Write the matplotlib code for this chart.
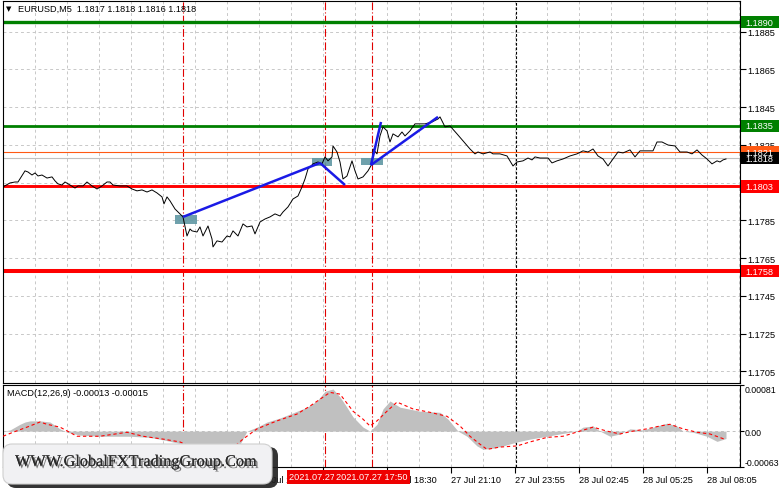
import matplotlib
matplotlib.use('Agg')
import matplotlib.pyplot as plt
from matplotlib.patches import Rectangle, FancyBboxPatch
from matplotlib.transforms import blended_transform_factory, IdentityTransform
import matplotlib.patheffects as pe
import numpy as np

# ---------------- data ----------------
price_bar = [0, 3.5, 6, 7.5, 11, 12.5, 14.5, 16, 17.5, 19.5, 22, 24.5, 26, 27.5, 29.5, 31, 33.5, 36, 37.5, 40,
             42, 44.5, 47, 49.5, 52, 53.5, 55, 58.5, 62, 64.5, 67, 69.5, 72, 74.5, 77, 79.5, 80.5, 82, 83.5, 86,
             88.5, 90, 92, 93.5, 94.5, 97, 98.5, 100, 102.5, 104.5, 105, 107, 109.5, 112, 113.5, 115, 117.5, 120,
             122, 124.5, 126, 128.5, 131, 133.5, 136, 138.5, 140, 142.5, 145, 147.5, 149.5, 151, 152.5, 155, 157.5,
             159.5, 161, 162.5, 164.5, 165, 167, 168.5, 170, 172, 174.5, 176, 177.5, 180, 182.5, 184.5, 185, 187,
             188.5, 190, 192, 193.5, 195, 197.5, 199.5, 201, 203.5, 206, 208.5, 211, 214.5, 217.5, 218.5, 221,
             223.5, 227, 230, 233.5, 236, 237.5, 240, 243.5, 245, 248.5, 252, 255, 257, 260, 262.5, 264.5, 266,
             268.5, 272.5, 274.5, 277, 280, 283.5, 287, 290, 292.5, 295, 297.5, 300, 302.5, 305, 307.5, 310, 313.5,
             316, 318.5, 320, 325, 327, 329.5, 332.5, 336, 338.5, 342, 344.5, 347, 349.5, 352, 354.5, 357, 358.5,
             360, 361.5]
price_close = [1.18027, 1.18048, 1.18053, 1.18053, 1.18112, 1.18106, 1.18090, 1.18101, 1.18085, 1.18090,
               1.18074, 1.18080, 1.18059, 1.18043, 1.18037, 1.18053, 1.18037, 1.18021, 1.18032, 1.18032,
               1.18053, 1.18032, 1.18016, 1.18032, 1.18053, 1.18053, 1.18037, 1.18032, 1.18032, 1.18016,
               1.18006, 1.18011, 1.18000, 1.18011, 1.17995, 1.17974, 1.17937, 1.17974, 1.17953, 1.17910,
               1.17884, 1.17868, 1.17767, 1.17804, 1.17794, 1.17788, 1.17815, 1.17767, 1.17820, 1.17751,
               1.17709, 1.17741, 1.17735, 1.17767, 1.17762, 1.17794, 1.17767, 1.17831, 1.17815, 1.17820,
               1.17778, 1.17841, 1.17857, 1.17868, 1.17884, 1.17873, 1.17894, 1.17921, 1.17963, 1.17979,
               1.18027, 1.18069, 1.18122, 1.18149, 1.18159, 1.18149, 1.18186, 1.18165, 1.18186, 1.18244,
               1.18212, 1.18159, 1.18069, 1.18085, 1.18165, 1.18112, 1.18069, 1.18080, 1.18112, 1.18149,
               1.18228, 1.18202, 1.18297, 1.18345, 1.18324, 1.18265, 1.18308, 1.18292, 1.18318, 1.18297,
               1.18324, 1.18361, 1.18361, 1.18361, 1.18371, 1.18387, 1.18398, 1.18345, 1.18350, 1.18308,
               1.18271, 1.18228, 1.18202, 1.18212, 1.18202, 1.18212, 1.18202, 1.18202, 1.18191, 1.18138,
               1.18159, 1.18165, 1.18180, 1.18170, 1.18186, 1.18180, 1.18180, 1.18154, 1.18165, 1.18175,
               1.18191, 1.18202, 1.18218, 1.18212, 1.18228, 1.18191, 1.18175, 1.18138, 1.18175, 1.18212,
               1.18207, 1.18223, 1.18186, 1.18218, 1.18218, 1.18218, 1.18265, 1.18265, 1.18249, 1.18244,
               1.18212, 1.18212, 1.18202, 1.18223, 1.18196, 1.18175, 1.18149, 1.18165, 1.18159, 1.18170,
               1.18175]

macd_bar = [0, 3.5, 8.5, 11, 13.5, 18.5, 23.5, 28.5, 32, 38.5, 48.5, 63.5, 73.5, 81, 87.5, 90, 96, 103.5, 111,
            118.5, 122, 127, 132, 138.5, 143.5, 148.5, 152, 157, 161, 165, 168.5, 171, 175, 180, 183.5, 187, 190,
            193.5, 198.5, 208.5, 218.5, 222.5, 227.5, 232, 237, 240, 245, 250, 257, 263.5, 272, 280, 287, 290,
            295, 298.5, 303.5, 308.5, 313.5, 320, 327, 332, 337, 340, 345, 352, 357, 361.5]
macd_main = [0.0, 0.00002, 0.00012, 0.00016, 0.00018, 0.00018, 0.00016, 0.00004, -0.00002, -0.00007, -0.00009,
             -0.00009, -0.00011, -0.00016, -0.00021, -0.00026, -0.00035, -0.00042, -0.00040, -0.00023, 0.0,
             0.00007, 0.00016, 0.00023, 0.00030, 0.00037, 0.00042, 0.00053, 0.00070, 0.00074, 0.00060, 0.00047,
             0.00025, 0.00007, 0.0, 0.00012, 0.00039, 0.00053, 0.00042, 0.00035, 0.00033, 0.00021, 0.0, -0.00009,
             -0.00026, -0.00032, -0.00030, -0.00026, -0.00019, -0.00014, -0.00009, -0.00004, 0.0, 0.00007,
             0.00009, 0.0, -0.00009, -0.00005, 0.00004, 0.00002, 0.00009, 0.00014, 0.00009, 0.0, -0.00002,
             -0.00009, -0.00018, -0.00013]

sig_bar = [0, 5, 12, 18.5, 22, 28.5, 37, 48.5, 62, 70, 80, 88.5, 98.5, 108.5, 116, 120, 127, 137, 147, 153.5,
           158.5, 163.5, 168.5, 175, 180, 183.5, 187, 192, 197, 205, 213.5, 222, 228.5, 233.5, 238.5, 242, 248.5,
           257, 263.5, 272, 280, 288.5, 295, 302, 308.5, 315, 322, 328.5, 333.5, 340, 347, 353.5, 361.5]
sig_val = [-0.00009, -0.00002, 0.00007, 0.00016, 0.00012, 0.00007, -0.00009, -0.00009, -0.00002, -0.00009,
           -0.00014, -0.00019, -0.00035, -0.00042, -0.00026, -0.00014, 0.00004, 0.00018, 0.00030, 0.00044,
           0.00056, 0.00068, 0.00065, 0.00035, 0.00021, 0.00009, 0.00018, 0.00035, 0.00051, 0.00039, 0.00033,
           0.00026, 0.00009, -0.00009, -0.00023, -0.00032, -0.00028, -0.00026, -0.00019, -0.00011, -0.00009,
           0.0, 0.00007, 0.0, -0.00005, 0.0, 0.00004, 0.00009, 0.00012, 0.00004, -0.00002, -0.00005, -0.00015]

# horizontal levels
level_price = [1.1890, 1.1835, 1.1803, 1.1758]
level_color = ['#008000', '#008000', '#ff0000', '#ff0000']
level_lw = [2.4, 2.0, 2.1, 2.9]
ask_price = 1.1821
bid_price = 1.1818

# trend lines (bar, price)
trend_bar = [(90, 158.5), (158.5, 171), (184, 189), (184, 217.5)]
trend_price = [(1.17868, 1.18154), (1.18154, 1.18037), (1.18143, 1.18371), (1.18143, 1.18398)]

# zones
zone_bar = [(86, 97), (154.5, 164.5), (179, 190)]
zone_price = [(1.17831, 1.17879), (1.18138, 1.18180), (1.18143, 1.18180)]

vline_red_bar = [90, 161, 184.5]
vline_red_text = ['2021.07.27 09:40', '2021.07.27 15:45', '2021.07.27 17:50']
day_sep_bar = 256.5

price_ticks = [1.1885, 1.1865, 1.1845, 1.1825, 1.1805, 1.1785, 1.1765, 1.1745, 1.1725, 1.1705]
time_tick_bar = [32, 64, 96, 128, 160, 192, 224, 256, 288, 320, 352]
time_tick_lab = ['27 Jul 05:10', '27 Jul 07:50', '27 Jul 10:30', '27 Jul 13:10', '27 Jul 15:50', '27 Jul 18:30',
                 '27 Jul 21:10', '27 Jul 23:55', '28 Jul 02:45', '28 Jul 05:25', '28 Jul 08:05']

# ---------------- figure ----------------
W, H = 781, 489
fig = plt.figure(figsize=(W / 100, H / 100), dpi=100)
FONT = 'Liberation Sans'
FS = 6.6

def fx(px):
    return px / W

def fy(py):
    return 1 - py / H

ax1 = fig.add_axes([fx(3), fy(384), fx(740) - fx(3), fy(2) - fy(384)])
ax2 = fig.add_axes([fx(3), fy(468), fx(740) - fx(3), fy(386) - fy(468)])

XMAX = 368.5
for ax in (ax1, ax2):
    ax.set_xlim(0, XMAX)
    for s in ax.spines.values():
        s.set_linewidth(0.8)
        s.set_color('black')
    for gb in np.arange(16, XMAX, 16):
        ax.axvline(gb, color='#c8c8c8', lw=0.7, ls=(0, (3, 3)), zorder=0.5)
    for vb in vline_red_bar:
        ax.axvline(vb, color='#e00000', lw=0.8, ls=(0, (7, 2, 1, 2)), zorder=1)
    ax.axvline(day_sep_bar, color='black', lw=0.8, ls=(0, (2.5, 1.5)), zorder=1)

ax1.set_ylim(1.16988, 1.19012)
for p in price_ticks:
    ax1.axhline(p, color='#c8c8c8', lw=0.7, ls=(0, (3, 3)), zorder=0.5)

# levels
for p, c, lw in zip(level_price, level_color, level_lw):
    ax1.axhline(p, color=c, lw=lw, zorder=2)
ax1.axhline(ask_price, color='#ff5a14', lw=0.8, zorder=2)
ax1.axhline(bid_price, color='#c0c0c0', lw=0.8, zorder=2)

# zones
for (b0, b1), (p0, p1) in zip(zone_bar, zone_price):
    ax1.add_patch(Rectangle((b0, p0), b1 - b0, p1 - p0, fc='#5f97a3', ec='none', alpha=0.9, zorder=3))

# price line
ax1.plot(price_bar, price_close, color='black', lw=0.7, zorder=4)

# trend lines
for bb, pp in zip(trend_bar, trend_price):
    ax1.plot(bb, pp, color='#1a1ae6', lw=1.8, zorder=5, solid_capstyle='butt')

ax1.yaxis.tick_right()
ax1.set_yticks(price_ticks)
ax1.set_yticklabels([f'{p:.4f}' for p in price_ticks])
ax1.tick_params(axis='y', length=4, width=0.8, pad=1.5, labelsize=FS, labelfontfamily=FONT)
ax1.set_xticks([])

# MACD panel
ax2.set_ylim(-0.00063, 0.00081)
ax2.fill_between(macd_bar, 0, macd_main, color='#c0c0c0', lw=0, zorder=2)
ax2.plot(sig_bar, sig_val, color='#ff0000', lw=0.8, ls=(0, (3, 2.5)), zorder=3)
ax2.axhline(0, color='#c0c0c0', lw=0.7, ls=(0, (3, 3)), zorder=1.5)
ax2.yaxis.tick_right()
ax2.set_yticks([-0.00063, 0.0, 0.00081])
ax2.set_yticklabels(['-0.00063', '0.00', '0.00081'])
ax2.tick_params(axis='y', length=3, width=0.8, pad=0.5, labelsize=6.3, labelfontfamily=FONT)
ylabs = ax2.get_yticklabels()
ylabs[0].set_va('bottom')
ylabs[2].set_va('top')
ax2.set_xticks(time_tick_bar)
ax2.set_xticklabels(time_tick_lab)
ax2.tick_params(axis='x', length=4, width=0.8, pad=2, labelsize=FS, labelfontfamily=FONT)
for lab in ax2.get_xticklabels():
    lab.set_ha('left')
ax2.text(0.006, 0.96, 'MACD(12,26,9) -0.00013 -0.00015', transform=ax2.transAxes, va='top', ha='left',
         fontsize=FS, family=FONT, zorder=6)

# title
fig.text(fx(6), fy(9.5), '\u25BC', fontsize=5, family='DejaVu Sans', va='center', ha='left')
fig.text(fx(18), fy(9.5), 'EURUSD,M5  1.1817 1.1818 1.1816 1.1818', fontsize=FS, family=FONT,
         va='center', ha='left')

# right-side level labels
yblend = blended_transform_factory(fig.transFigure, ax1.transData)
box_h = 0.00066
labels_right = [(1.1890, '#008000', 'white'), (1.1835, '#008000', 'white'), (ask_price, '#ff5a14', 'white'),
                (1.1803, '#ff0000', 'white'), (1.1758, '#ff0000', 'white'), (bid_price, 'black', 'white')]
for p, bg, fg in labels_right:
    r = Rectangle((fx(741), p - box_h / 2), fx(779) - fx(741), box_h, transform=yblend, fc=bg, ec='none',
                  zorder=2)
    fig.add_artist(r)
    fig.text(fx(745.5), p, f'{p:.4f}', transform=yblend, color=fg, fontsize=FS, family=FONT,
             va='center', ha='left', zorder=2.1)

# red time labels at the bottom
xblend = blended_transform_factory(ax2.transData, fig.transFigure)
for i, (b, s) in enumerate(zip(vline_red_bar, vline_red_text)):
    fig.text(b, fy(478), s, transform=xblend, color='white', fontsize=FS, family=FONT, ha='center',
             va='center', zorder=3 + i * 0.1,
             bbox=dict(boxstyle='square,pad=0.25', fc='#ee0000', ec='none'))

# watermark
idt = IdentityTransform()
shadow = FancyBboxPatch((7, H - 489), 271, 41, boxstyle='round,pad=0,rounding_size=9', transform=idt,
                        fc='#1e1e1e', ec='none', alpha=0.9, zorder=8)
box = FancyBboxPatch((3, H - 485), 269, 40, boxstyle='round,pad=0,rounding_size=9', transform=idt,
                     fc='#f1f1f3', ec='#cfcfcf', lw=0.8, zorder=9)
fig.add_artist(shadow)
fig.add_artist(box)
fig.text(fx(136), fy(463), 'WWW.GlobalFXTradingGroup.Com', fontsize=11.7, family='Liberation Serif',
         color='#2a2a2a', ha='center', va='center', zorder=10,
         path_effects=[pe.withSimplePatchShadow(offset=(1.5, -1.5), shadow_rgbFace='#5a5a5a', alpha=0.8),
                       pe.Normal()])

fig.savefig('out.png', dpi=100)
